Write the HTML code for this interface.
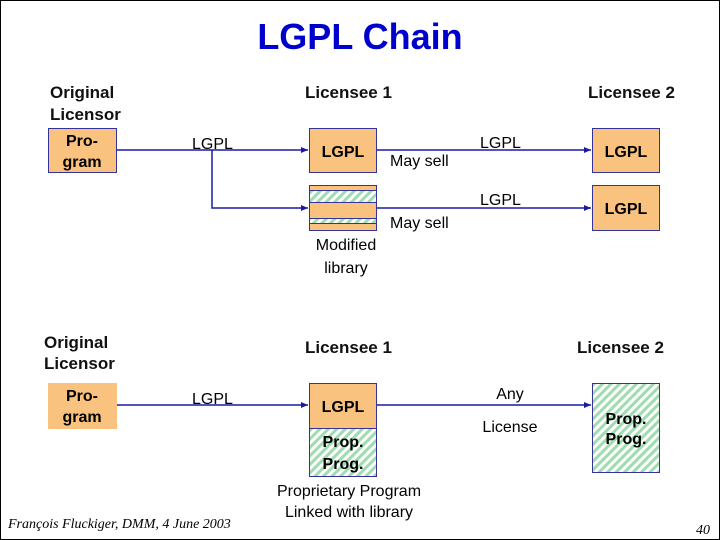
<!DOCTYPE html>
<html><head><meta charset="utf-8"><style>
html,body{margin:0;padding:0;background:#fff;}
svg{display:block;}
text{font-family:"Liberation Sans",Arial,sans-serif;}
</style></head><body>
<svg width="720" height="540" viewBox="0 0 720 540" xmlns="http://www.w3.org/2000/svg">
<defs>
<pattern id="h" width="6" height="6" patternUnits="userSpaceOnUse" patternTransform="rotate(45)">
<rect width="6" height="6" fill="#fff"/>
<rect width="3" height="6" fill="#9fdcb0"/>
</pattern>
<marker id="a" markerWidth="8" markerHeight="8" refX="7" refY="4" orient="auto" markerUnits="userSpaceOnUse">
<path d="M0,1 L7,4 L0,7 Z" fill="#1a1aa8"/>
</marker>
</defs>
<rect x="0.5" y="0.5" width="719" height="539" fill="#fff" stroke="#000"/>
<text x="360" y="49" text-anchor="middle" font-size="36" font-weight="bold" fill="#0000cc">LGPL Chain</text>

<g font-size="17" font-weight="bold" fill="#111">
<text x="50" y="98">Original</text>
<text x="50" y="120">Licensor</text>
<text x="305" y="98">Licensee 1</text>
<text x="588" y="98">Licensee 2</text>
<text x="44" y="348">Original</text>
<text x="44" y="369">Licensor</text>
<text x="305" y="353">Licensee 1</text>
<text x="577" y="353">Licensee 2</text>
</g>

<rect x="48.5" y="128.5" width="68" height="44" fill="#f9c37f" stroke="#333399"/>
<text x="82" y="146" text-anchor="middle" font-size="16" font-weight="bold">Pro-</text>
<text x="82" y="167" text-anchor="middle" font-size="16" font-weight="bold">gram</text>
<g stroke="#1a1aa8" stroke-width="1.5" fill="none">
<line x1="117" y1="150" x2="308" y2="150" marker-end="url(#a)"/>
<polyline points="212,150 212,208 308,208" marker-end="url(#a)"/>
<line x1="377" y1="150" x2="591" y2="150" marker-end="url(#a)"/>
<line x1="377" y1="208" x2="591" y2="208" marker-end="url(#a)"/>
</g>
<text x="192" y="149" font-size="16">LGPL</text>

<rect x="309.5" y="128.5" width="67" height="44" fill="#f9c37f" stroke="#333399"/>
<text x="343" y="157" text-anchor="middle" font-size="16" font-weight="bold">LGPL</text>

<rect x="309.5" y="185.5" width="67" height="45" fill="#f9c37f" stroke="#333399"/>
<rect x="309.5" y="190.5" width="67" height="12" fill="url(#h)" stroke="#333399"/>
<rect x="309.5" y="218.5" width="67" height="5" fill="url(#h)" stroke="#333399"/>

<text x="390" y="166" font-size="16">May sell</text>
<text x="390" y="228" font-size="16">May sell</text>
<text x="480" y="148" font-size="16">LGPL</text>
<text x="480" y="205" font-size="16">LGPL</text>
<text x="346" y="250" text-anchor="middle" font-size="16">Modified</text>
<text x="346" y="273" text-anchor="middle" font-size="16">library</text>

<rect x="592.5" y="128.5" width="67" height="44" fill="#f9c37f" stroke="#333399"/>
<text x="626" y="157" text-anchor="middle" font-size="16" font-weight="bold">LGPL</text>
<rect x="592.5" y="185.5" width="67" height="45" fill="#f9c37f" stroke="#333399"/>
<text x="626" y="214" text-anchor="middle" font-size="16" font-weight="bold">LGPL</text>

<rect x="48" y="383" width="69" height="46" fill="#f9c37f"/>
<text x="82" y="401" text-anchor="middle" font-size="16" font-weight="bold">Pro-</text>
<text x="82" y="422" text-anchor="middle" font-size="16" font-weight="bold">gram</text>
<g stroke="#1a1aa8" stroke-width="1.5" fill="none">
<line x1="117" y1="405" x2="308" y2="405" marker-end="url(#a)"/>
<line x1="377" y1="405" x2="591" y2="405" marker-end="url(#a)"/>
</g>
<text x="192" y="404" font-size="16">LGPL</text>

<rect x="309.5" y="383.5" width="67" height="45" fill="#f9c37f" stroke="#333399"/>
<text x="343" y="412" text-anchor="middle" font-size="16" font-weight="bold">LGPL</text>
<rect x="309.5" y="428.5" width="67" height="48" fill="url(#h)" stroke="#333399"/>
<text x="343" y="447" text-anchor="middle" font-size="16" font-weight="bold">Prop.</text>
<text x="343" y="469" text-anchor="middle" font-size="16" font-weight="bold">Prog.</text>

<text x="510" y="399" text-anchor="middle" font-size="16">Any</text>
<text x="510" y="432" text-anchor="middle" font-size="16">License</text>

<rect x="592.5" y="383.5" width="67" height="89" fill="url(#h)" stroke="#333399"/>
<text x="626" y="424" text-anchor="middle" font-size="16" font-weight="bold">Prop.</text>
<text x="626" y="444" text-anchor="middle" font-size="16" font-weight="bold">Prog.</text>

<text x="349" y="496" text-anchor="middle" font-size="16">Proprietary Program</text>
<text x="349" y="517" text-anchor="middle" font-size="16">Linked with library</text>

<text x="8" y="528" font-size="14" font-style="italic" style="font-family:'Liberation Serif',serif">François Fluckiger, DMM, 4 June 2003</text>
<text x="710" y="534" text-anchor="end" font-size="14" font-style="italic" style="font-family:'Liberation Serif',serif">40</text>
</svg>
</body></html>
